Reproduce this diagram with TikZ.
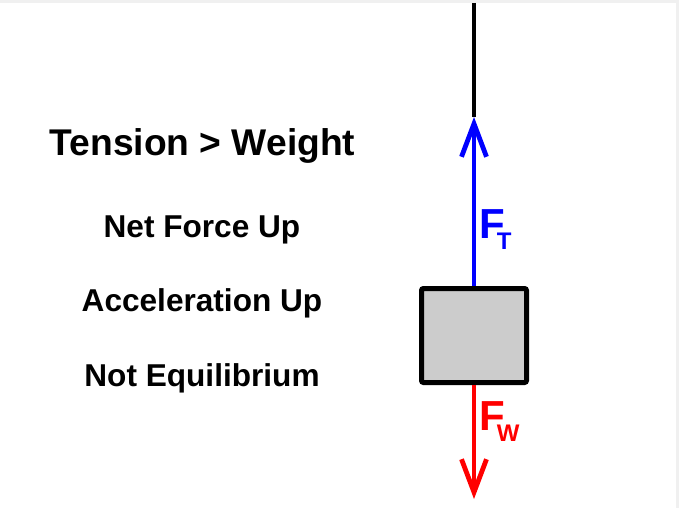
\documentclass[tikz,border=0pt]{standalone}
\usepackage{fontspec}
\setmainfont{Liberation Sans}
\usetikzlibrary{arrows.meta}
\definecolor{boxgray}{HTML}{CCCCCC}
\definecolor{framegray}{HTML}{F0F0F0}
\tikzset{
  title/.style={anchor=base, inner sep=0pt, font=\bfseries\fontsize{37.2}{40}\selectfont},
  stmt/.style={anchor=base, inner sep=0pt, font=\bfseries\fontsize{31.6}{34}\selectfont},
  forcelbl/.style={anchor=base west, inner sep=0pt, font=\bfseries\fontsize{42}{42}\selectfont},
  rope/.style={line width=4.8pt, black},
  force/.style={line width=4.8pt, -{Straight Barb[length=33pt,width=25pt]}},
  mass/.style={draw=black, fill=boxgray, line width=5pt, rounded corners=2pt, minimum width=105pt, minimum height=94pt, inner sep=0pt}
}
\begin{document}
\begin{tikzpicture}[x=1pt,y=-1pt]
\fill[framegray] (0,0) rectangle (679,508);
\fill[white] (0,3) rectangle (676,508);
\useasboundingbox (0,0) rectangle (679,508);

\node[title] (t1) at (202.5,155) {Tension > Weight};
\node[stmt] (t2) at (202,237) {Net Force Up};
\node[stmt] (t3) at (202,311) {Acceleration Up};
\node[stmt] (t4) at (202,386) {Not Equilibrium};

\coordinate (top) at (474,3);
\coordinate (tipT) at (474,117);
\coordinate (tipW) at (474,499);
\node[mass] (box) at (474,335.5) {};

\draw[rope] (top) -- (tipT);
\draw[force, blue] (box.north) -- (tipT);
\draw[force, red] (box.south) -- (tipW);

\node[forcelbl, text=blue] (ft) at (479,238) {F\hspace{-8pt}\raisebox{-11pt}{\fontsize{24}{24}\selectfont T}};
\node[forcelbl, text=red] (fw) at (479,430) {F\hspace{-8pt}\raisebox{-11pt}{\fontsize{24}{24}\selectfont W}};
\end{tikzpicture}
\end{document}
